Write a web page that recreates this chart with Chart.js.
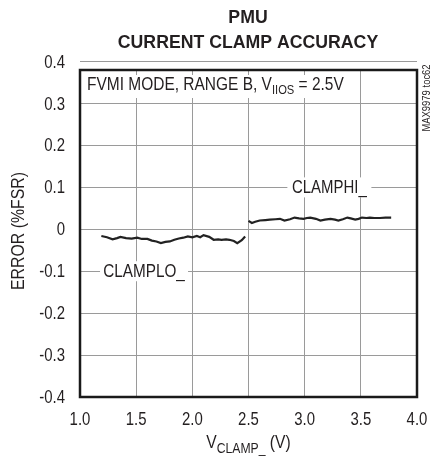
<!DOCTYPE html>
<html>
<head>
<meta charset="utf-8">
<script src="https://cdn.jsdelivr.net/npm/chart.js@4/dist/chart.umd.min.js"></script>
<style>
html,body{margin:0;padding:0;background:#fff;}
#wrap{width:440px;height:458px;}
</style>
</head>
<body>
<div id="wrap"><canvas id="c" width="440" height="458"></canvas></div>
<script>
// ---- data ----
const clampLoX = [1.19, 1.24, 1.29, 1.33, 1.36, 1.41, 1.46, 1.51, 1.55, 1.60, 1.64, 1.68, 1.72, 1.76, 1.80, 1.84, 1.88, 1.92, 1.96, 2.00, 2.04, 2.07, 2.10, 2.15, 2.19, 2.23, 2.26, 2.30, 2.33, 2.37, 2.40, 2.44, 2.47];
const clampLoY = [-0.016, -0.019, -0.024, -0.021, -0.018, -0.021, -0.022, -0.020, -0.023, -0.023, -0.027, -0.029, -0.033, -0.030, -0.029, -0.025, -0.022, -0.020, -0.017, -0.019, -0.016, -0.019, -0.014, -0.018, -0.025, -0.024, -0.025, -0.024, -0.025, -0.028, -0.033, -0.026, -0.017];
const clampHiX = [2.50, 2.53, 2.56, 2.60, 2.65, 2.69, 2.74, 2.78, 2.82, 2.87, 2.91, 2.95, 2.99, 3.02, 3.05, 3.10, 3.14, 3.18, 3.23, 3.27, 3.30, 3.34, 3.38, 3.41, 3.45, 3.48, 3.51, 3.55, 3.58, 3.62, 3.67, 3.72, 3.77];
const clampHiY = [0.020, 0.015, 0.018, 0.021, 0.022, 0.023, 0.024, 0.025, 0.021, 0.024, 0.028, 0.026, 0.025, 0.027, 0.028, 0.025, 0.021, 0.023, 0.025, 0.023, 0.021, 0.024, 0.028, 0.026, 0.023, 0.025, 0.028, 0.027, 0.028, 0.027, 0.027, 0.028, 0.028];
const xTicks = [1.0, 1.5, 2.0, 2.5, 3.0, 3.5, 4.0];
const yTicks = [-0.4, -0.3, -0.2, -0.1, 0, 0.1, 0.2, 0.3, 0.4];
const titleLines = ['PMU', 'CURRENT CLAMP ACCURACY'];
const seriesNames = ['CLAMPLO_', 'CLAMPHI_'];

const SANS = "'Liberation Sans', Arial, sans-serif";
const TXT = '#231f20';
const GRID = '#9a9a9a';
const SQ = 0.85; // horizontal squeeze to mimic the condensed face

function toPts(xs, ys){ return xs.map((x,i)=>({x:x, y:ys[i]})); }
function fmtX(v){ return Number(v).toFixed(1); }
function fmtY(v){ return Math.abs(v) < 1e-9 ? '0' : Number(v).toFixed(1); }

// condensed text: parts = [[text, isSub], ...]; align: 'left'|'center'|'right'
function narrowText(ctx, parts, x, y, size, subSize, subDrop, align, sq){
  sq = sq || SQ;
  let w = 0;
  parts.forEach(p=>{ ctx.font = (p[1]?subSize:size)+'px '+SANS; w += ctx.measureText(p[0]).width; });
  let start = align === 'center' ? -w/2 : (align === 'right' ? -w : 0);
  ctx.save();
  ctx.translate(x, y);
  ctx.scale(sq, 1);
  ctx.textAlign = 'left';
  let cx = start;
  parts.forEach(p=>{
    ctx.font = (p[1]?subSize:size)+'px '+SANS;
    ctx.fillText(p[0], cx, p[1]?subDrop:0);
    cx += ctx.measureText(p[0]).width;
  });
  ctx.restore();
  return w * sq;
}

const annot = {
  id: 'annot',
  beforeDatasetsDraw(chart){
    const ctx = chart.ctx;
    const xs = chart.scales.x, ys = chart.scales.y;
    ctx.save();
    ctx.fillStyle = '#fff';
    ctx.fillRect(xs.left+3, ys.top+5, 266, 23);
    const lx = xs.getPixelForValue(1.57), ly = ys.getPixelForValue(-0.1);
    const hx = xs.getPixelForValue(3.22), hy = ys.getPixelForValue(0.1);
    ctx.fillRect(lx - 44, ly - 10, 88, 20);
    ctx.fillRect(hx - 42, hy - 10, 84, 20);
    ctx.fillStyle = TXT;
    ctx.textBaseline = 'middle';
    narrowText(ctx, [[seriesNames[0],false]], lx, ly+1, 18, 13, 0, 'center', 0.85);
    narrowText(ctx, [[seriesNames[1],false]], hx, hy+1, 18, 13, 0, 'center', 0.83);
    ctx.textBaseline = 'alphabetic';
    narrowText(ctx, [['FVMI MODE, RANGE B, V',false],['IIOS',true],[' = 2.5V',false]], xs.left+7, ys.top+20, 18, 13, 4, 'left', 0.86);
    ctx.restore();
  },
  afterDraw(chart){
    const ctx = chart.ctx;
    const ca = chart.chartArea;
    const xs = chart.scales.x, ys = chart.scales.y;
    ctx.save();
    // frame
    ctx.strokeStyle = '#1a1a1a';
    ctx.lineWidth = 2.5;
    ctx.strokeRect(ca.left, ca.top, ca.right-ca.left, ca.bottom-ca.top);
    ctx.fillStyle = TXT;
    // tick labels from the library's scales
    ctx.textBaseline = 'alphabetic';
    xs.ticks.forEach(t => {
      narrowText(ctx, [[fmtX(t.value),false]], xs.getPixelForValue(t.value), 425, 18, 13, 0, 'center', 0.83);
    });
    ctx.textBaseline = 'middle';
    ys.ticks.forEach(t => {
      narrowText(ctx, [[fmtY(t.value),false]], 65, ys.getPixelForValue(t.value) + 1, 18, 13, 0, 'right', 0.83);
    });
    // title
    ctx.font = 'bold 17.7px '+SANS;
    ctx.textAlign = 'center';
    ctx.textBaseline = 'alphabetic';
    ctx.fillText(titleLines[0], 248, 23);
    ctx.fillText(titleLines[1], 248, 48);
    // x axis title
    narrowText(ctx, [['V',false],['CLAMP_',true],[' (V)',false]], (ca.left+ca.right)/2, 448, 18, 14, 5, 'center', 0.87);
    // y axis title
    ctx.save();
    ctx.translate(24, 231);
    ctx.rotate(-Math.PI/2);
    narrowText(ctx, [['ERROR (%FSR)',false]], 0, 0, 18, 13, 0, 'center', 0.88);
    ctx.restore();
    // side code
    ctx.save();
    ctx.translate(427, 98);
    ctx.rotate(-Math.PI/2);
    ctx.textBaseline = 'middle';
    narrowText(ctx, [['MAX9979 toc62',false]], 0, 0, 10.5, 8, 0, 'center', 0.9);
    ctx.restore();
    ctx.restore();
  }
};

new Chart(document.getElementById('c'), {
  type: 'line',
  data: {
    datasets: [
      { label: seriesNames[0], data: toPts(clampLoX, clampLoY), borderColor: '#222', borderWidth: 2.2, pointRadius: 0, tension: 0, fill: false },
      { label: seriesNames[1], data: toPts(clampHiX, clampHiY), borderColor: '#222', borderWidth: 2.2, pointRadius: 0, tension: 0, fill: false }
    ]
  },
  options: {
    responsive: false,
    animation: false,
    events: [],
    layout: { padding: { left: 0, right: 23, top: 70, bottom: 0 } },
    plugins: { legend: { display: false }, tooltip: { enabled: false }, title: { display: false } },
    scales: {
      x: {
        type: 'linear', min: 1, max: 4,
        afterBuildTicks: s => { s.ticks = xTicks.map(v => ({ value: v })); },
        afterFit: s => { s.height = 61; },
        grid: { color: GRID, lineWidth: 1, drawTicks: false },
        border: { display: false },
        ticks: { display: false, autoSkip: false }
      },
      y: {
        type: 'linear', min: -0.4, max: 0.38,
        afterBuildTicks: s => { s.ticks = yTicks.map(v => ({ value: v })); },
        afterFit: s => { s.width = 80; },
        grid: { color: GRID, lineWidth: 1, drawTicks: false },
        border: { display: false },
        ticks: { display: false, autoSkip: false }
      }
    }
  },
  plugins: [annot]
});
</script>
</body>
</html>
